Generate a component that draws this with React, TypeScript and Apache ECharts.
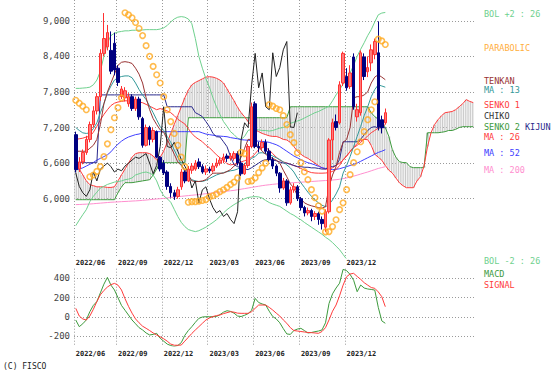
import React, { useEffect, useRef } from "react";
import * as echarts from "echarts";

// ---- weekly OHLC (Jun 2022 - Feb 2024) ----
const opens = [7080,6500,6620,6780,7000,7250,7480,7720,8450,8560,8500,8620,8200,7720,7700,7600,7720,7520,7680,7350,6900,7200,7000,7130,6700,6600,6450,6207,6100,6039,6200,6450,6300,6480,6500,6620,6540,6450,6500,6470,6550,6600,6650,6720,6680,6680,6760,6600,6420,6560,6880,7600,6880,6860,6950,6800,6660,6550,6430,6180,6300,5930,6150,6200,6000,5850,5760,5800,5700,5750,5650,5520,5780,6990,7300,7280,7950,8060,7890,8390,7380,7450,8390,8140,8290,8430,8460,7330,7280];
const closes = [6490,6620,6780,7000,7250,7480,7720,8450,8700,8800,8150,8170,7960,7850,7820,7720,7520,7680,7380,6900,7200,7000,7150,6700,6500,6433,6207,6100,6039,6150,6450,6300,6500,6550,6600,6540,6450,6500,6470,6550,6600,6650,6700,6680,6720,6760,6600,6420,6560,6880,7550,6880,6860,6950,6800,6660,6550,6430,6180,6300,5930,6150,6200,6000,5850,5760,5800,5700,5750,5650,5580,5780,6990,7280,7200,7920,8450,7870,8120,7550,7500,8460,8060,8210,8510,8650,7210,7200,7450];
const lows = [6440,6450,6580,6740,6950,7200,7420,7650,8400,8500,8100,8080,7900,7680,7640,7550,7480,7480,7330,6860,6880,6900,6950,6680,6460,6400,6150,6020,5980,6000,6150,6260,6280,6420,6470,6500,6420,6400,6430,6440,6520,6560,6600,6620,6640,6640,6560,6380,6400,6520,6850,6850,6780,6820,6760,6620,6500,6380,6100,6150,5880,5900,6100,5960,5800,5700,5720,5620,5640,5560,5480,5440,5750,6650,7150,7250,7900,7820,7850,7500,7300,7400,8000,8050,8150,8350,7150,7100,7250];
const highs = [7130,6700,6830,7060,7300,7560,7780,8520,9130,8930,8820,8800,8250,7900,7880,7780,7760,7720,7720,7380,7250,7230,7200,7150,6720,6650,6480,6260,6150,6200,6500,6480,6550,6600,6650,6680,6580,6560,6540,6600,6680,6700,6760,6760,6770,6800,6800,6640,6600,6920,7620,7640,6960,7000,7000,6850,6700,6580,6450,6350,6330,6200,6260,6230,6030,5880,5850,5830,5790,5780,5700,5820,7020,7350,7420,7980,8480,8200,8250,8450,7600,8500,8450,8400,8600,8700,8990,7400,7520];

// ---- indicators ----
const bolUpper = [7860,7860,7865,7870,7880,7920,8000,8150,8400,8620,8750,8790,8810,8820,8830,8830,8840,8840,8840,8845,8850,8850,8850,8850,8860,8880,8920,8980,9030,9060,9070,9060,9030,8950,8700,8400,8200,8020,7880,7700,7550,7420,7300,7220,7130,7080,7020,7000,7050,7150,7170,7170,7160,7150,7150,7140,7150,7170,7190,7200,7230,7270,7290,7310,7330,7360,7390,7420,7450,7470,7500,7530,7560,7650,7750,7840,7930,8030,8120,8250,8400,8520,8630,8750,8850,8980,9100,9130,9140];
const bolLower = [5545,5640,5730,5815,5950,6040,6110,6180,6210,6240,6260,6280,6290,6300,6320,6330,6350,6400,6420,6440,6450,6430,6400,6300,6150,6050,6000,5940,5820,5700,5600,5530,5480,5460,5445,5460,5490,5520,5560,5600,5645,5700,5760,5815,5860,5900,5935,5970,6000,6020,6030,6035,6030,6010,5970,5935,5910,5890,5870,5830,5790,5750,5720,5680,5645,5600,5560,5520,5480,5440,5400,5350,5310,5260,5200,5140,5060,4980,4900,4800,4700,4600,4500,4400,4300,4250,4200,4150,4100];
const parabolic = [7660,7610,7560,7500,6370,6400,6460,6540,6710,6925,7163,7365,7535,7700,9135,9100,9050,8970,8870,8750,8580,8400,8230,8090,7950,7720,7500,7300,7100,6900,6700,6540,5940,5950,5950,5960,5970,5985,6030,6050,6080,6120,6150,6190,6240,6280,6350,6780,6760,6290,6300,6350,6440,6520,6600,7585,7560,7520,7500,7400,7250,7080,6945,6775,6607,6455,6320,6152,6017,5880,5790,5440,5445,5530,5645,5815,5930,6152,6405,6607,6792,6960,7130,7332,7500,7635,8690,8660,8600];
const tenkan = [6800,6800,6800,6800,6850,6900,7000,7250,7600,7800,7950,8100,8250,8300,8310,8300,8280,8200,8100,7950,7700,7500,7350,7250,7160,7120,7000,6880,6750,6620,6560,6490,6400,6300,6290,6290,6300,6320,6380,6430,6430,6430,6430,6460,6490,6550,6600,6700,6850,7000,7000,6950,6880,6800,6750,6700,6680,6650,6600,6480,6370,6250,6180,6050,6000,5930,5900,5880,5865,5850,5840,5865,6200,6400,6540,6780,6950,7000,7200,7700,7720,7720,7750,7800,7950,8050,8090,8050,8006];
const kijun = [6607,6607,6607,6607,6607,6607,6607,7750,7750,7750,7750,7750,7750,7750,7750,7750,7750,7750,7750,7750,7750,7750,7750,7750,7750,7750,7550,7550,7550,7550,7550,7550,7550,7550,7450,7420,7383,7300,7214,7100,7045,7040,6960,6877,6710,6573,6540,6523,6500,6490,6523,6560,6600,6640,6658,6658,6650,6640,6620,6600,6600,6580,6560,6540,6540,6530,6530,6520,6520,6510,6500,6500,6540,6540,6560,6660,6960,6960,6960,6960,6960,7000,7080,7150,7200,7215,7190,7197,7197];
const ma13 = [7200,7150,7110,7100,7110,7180,7280,7450,7600,7780,7900,8000,8040,8060,8070,8070,8040,7950,7840,7750,7670,7560,7450,7330,7214,7150,7050,6950,6820,6700,6580,6460,6380,6320,6300,6290,6290,6310,6340,6370,6400,6420,6440,6455,6470,6480,6500,6540,6590,6630,6680,6710,6770,6775,6760,6740,6720,6690,6660,6620,6570,6520,6450,6350,6270,6190,6110,6040,5980,5930,5890,5865,5900,5980,6080,6200,6430,6560,6710,6880,7050,7220,7400,7550,7720,7840,7920,7900,7880];
const ma26 = [7000,7010,7020,7040,7050,7120,7220,7330,7420,7500,7570,7610,7630,7640,7650,7650,7650,7640,7630,7618,7590,7560,7530,7500,7520,7500,7480,7450,7400,7340,7300,7260,7180,7100,7040,7000,6960,6900,6860,6800,6740,6690,6650,6590,6570,6580,6600,6620,6640,6660,6700,6760,6830,6877,6860,6820,6760,6700,6650,6620,6600,6580,6560,6540,6510,6480,6460,6440,6433,6430,6430,6433,6440,6460,6490,6560,6658,6720,6790,6860,6900,6950,7000,7060,7112,7150,7190,7220,7248];
const ma52 = [6490,6500,6520,6550,6580,6610,6650,6680,6710,6740,6790,6860,6920,6970,7010,7040,7060,7080,7090,7110,7120,7130,7130,7130,7130,7130,7130,7130,7130,7130,7130,7130,7130,7130,7130,7130,7110,7090,7080,7070,7060,7055,7050,7045,7030,7020,7010,6995,6990,6985,6980,6975,6970,6965,6960,6950,6930,6910,6880,6840,6800,6760,6720,6690,6660,6630,6607,6590,6570,6545,6523,6510,6495,6490,6495,6505,6523,6540,6560,6580,6600,6630,6660,6690,6720,6750,6780,6800,6826];
const ma200 = [5900,5902,5905,5908,5910,5915,5920,5925,5930,5935,5940,5943,5946,5950,5953,5956,5960,5963,5967,5972,5977,5983,5990,5995,6000,6005,6012,6020,6027,6034,6040,6046,6052,6058,6064,6070,6077,6084,6091,6098,6105,6112,6120,6127,6134,6140,6150,6160,6170,6180,6190,6200,6210,6220,6228,6235,6242,6248,6253,6258,6262,6266,6270,6274,6278,6282,6286,6290,6294,6298,6302,6306,6310,6315,6320,6328,6338,6350,6365,6380,6397,6415,6433,6450,6470,6490,6510,6525,6540];
// leading spans, projected 25 weeks ahead
const senko1 = [6607,6500,6400,6300,6236,6220,6200,6200,6200,6190,6190,6200,6300,6400,6500,6600,6700,6760,6775,6775,6775,6760,6720,6650,6700,6800,6950,7100,7250,7400,7550,7700,7830,7920,7960,7990,8020,8050,8057,8050,8030,8000,7950,7850,7750,7650,7540,7450,7380,7300,7230,7163,7130,7100,7080,7060,7050,7050,7030,7000,6990,6950,6880,6800,6750,6708,6680,6640,6600,6560,6520,6500,6500,6520,6560,6600,6650,6720,6800,6870,6930,6980,7000,6995,6900,6750,6700,6650,6560,6480,6433,6350,6270,6220,6185,6185,6185,6300,6370,6550,6877,7112,7250,7332,7400,7450,7460,7470,7500,7550,7600,7670,7640,7620];
const senko2 = [5983,5983,5983,5983,5983,5983,5983,5983,5983,5983,5983,5983,6100,6200,6270,6270,6270,6280,6290,6300,6310,6320,6400,6500,6607,6607,6607,6607,6607,6607,6607,6607,7365,7365,7365,7365,7365,7365,7365,7365,7365,7365,7365,7365,7365,7365,7365,7365,7365,7365,7365,7365,7365,7365,7365,7365,7365,7365,7365,7365,7365,7550,7550,7550,7550,7550,7550,7550,7550,7550,7550,7550,7550,7550,7550,7550,7550,7550,7550,7550,7550,7550,7550,7550,7450,7383,7340,7298,7200,7050,6826,6700,6624,6610,6607,6540,6523,6523,6523,6523,7112,7112,7112,7112,7120,7130,7150,7150,7170,7200,7214,7214,7214,7214];
const macd = [-31,-100,-70,-30,55,120,160,250,340,410,330,280,200,120,70,20,-31,-70,-110,-134,-165,-186,-180,-169,-220,-250,-280,-295,-305,-295,-265,-190,-140,-100,-55,-14,0,3,3,3,5,25,50,65,58,40,10,5,18,35,70,193,150,135,124,60,5,-20,-60,-120,-175,-180,-140,-125,-117,-140,-165,-160,-152,-145,-134,-60,140,240,300,350,493,480,440,380,262,331,300,290,285,279,100,-40,-65];
const signal = [90,10,-20,-31,10,80,160,230,275,310,335,348,330,280,190,110,40,-20,-60,-95,-117,-140,-165,-186,-205,-225,-250,-280,-292,-292,-290,-250,-210,-170,-134,-100,-65,-31,-10,5,15,21,35,45,55,50,40,38,38,38,55,90,124,124,124,100,72,40,10,-30,-65,-110,-140,-145,-150,-155,-160,-162,-165,-169,-150,-110,-30,60,124,220,330,417,445,452,420,390,355,330,305,297,260,210,107];

const SHIFT = 25;
const priceTicks = [6000, 6600, 7200, 7800, 8400, 9000];
const macdTicks = [-200, 0, 200, 400];

// weekly categories (Fridays), including the 25 projected weeks
const weeks: string[] = [];
for (let k = 0; k < closes.length + SHIFT; k++) {
  const d = new Date(Date.UTC(2022, 5, 10) + k * 7 * 86400000);
  weeks.push(
    `${d.getUTCFullYear()}/${String(d.getUTCMonth() + 1).padStart(2, "0")}/${String(d.getUTCDate()).padStart(2, "0")}`
  );
}
const isQuarter = (i: number) => {
  if (i >= closes.length) return false;
  if (i === 0) return true;
  const m = Number(weeks[i].slice(5, 7));
  const day = Number(weeks[i].slice(8, 10));
  return [3, 6, 9, 12].includes(m) && day <= 7;
};

const chiko = closes.slice(SHIFT);

const FONT = '"DejaVu Sans Mono", monospace';
const GRID_LINE = { color: "#9a9a9a", width: 1, type: [1, 2] as any };

const legendItems: [string, string, number, number][] = [
  ["BOL +2 : 26", "#6fd18e", 484, 14],
  ["PARABOLIC", "#ffae3c", 484, 48],
  ["TENKAN", "#993333", 484, 81],
  ["MA : 13", "#339999", 484, 89.5],
  ["SENKO 1", "#ff3b3b", 484, 105],
  ["CHIKO", "#333333", 484, 116],
  ["SENKO 2", "#3d9a3d", 484, 127],
  ["KIJUN", "#2a2a8c", 525, 127],
  ["MA : 26", "#ff3b3b", 484, 136.5],
  ["MA : 52", "#4040ff", 484, 153],
  ["MA : 200", "#ff8fcf", 484, 170],
  ["BOL -2 : 26", "#6fd18e", 484, 261],
  ["MACD", "#3d9a3d", 484, 274],
  ["SIGNAL", "#ff3b3b", 484, 284.5],
];

function xAxisFor(gridIndex: number, margin: number) {
  return {
    type: "category",
    gridIndex,
    data: weeks,
    boundaryGap: true,
    axisLine: { show: false },
    axisTick: { show: false },
    axisLabel: {
      interval: (i: number) => isQuarter(i),
      formatter: (v: string) => v.slice(0, 7),
      fontSize: 7,
      fontFamily: FONT,
      fontWeight: "bold",
      color: "#222",
      align: "left",
      margin,
    },
    splitLine: { show: true, interval: (i: number) => isQuarter(i), lineStyle: GRID_LINE },
  };
}

const line = (data: (number | null)[], color: string, extra: any = {}) => ({
  type: "line",
  data,
  symbol: "none",
  silent: true,
  lineStyle: { color, width: 1 },
  itemStyle: { color },
  z: 3,
  ...extra,
});

export default function App() {
  const ref = useRef<HTMLDivElement>(null);
  useEffect(() => {
    const chart = echarts.init(ref.current!, null, { renderer: "svg" });
    const option: any = {
      animation: false,
      backgroundColor: "#ffffff",
      grid: [
        { left: 74, right: 84, top: 0, height: 258 },
        { left: 74, right: 84, top: 268.7, height: 77.3 },
      ],
      xAxis: [xAxisFor(0, 1), xAxisFor(1, 4)],
      yAxis: [
        {
          type: "value",
          gridIndex: 0,
          min: 5000,
          max: 9350,
          axisLine: { show: false },
          axisTick: { show: false, customValues: priceTicks },
          axisLabel: {
            customValues: priceTicks,
            formatter: (v: number) => v.toLocaleString("en-US"),
            fontSize: 9,
            fontFamily: FONT,
            color: "#444",
            margin: 4,
          },
          splitLine: { show: true, lineStyle: GRID_LINE },
        },
        {
          type: "value",
          gridIndex: 1,
          min: -300,
          max: 500,
          axisLine: { show: false },
          axisTick: { show: false, customValues: macdTicks },
          axisLabel: {
            customValues: macdTicks,
            fontSize: 9,
            fontFamily: FONT,
            color: "#444",
            margin: 4,
          },
          splitLine: { show: true, lineStyle: GRID_LINE },
        },
      ],
      series: [
        {
          type: "custom",
          xAxisIndex: 0,
          yAxisIndex: 0,
          silent: true,
          z: 1,
          data: senko1.map((v, i) => [i, v, senko2[i]]),
          renderItem: (_p: any, api: any) => {
            const i = api.value(0);
            const a = api.coord([i, api.value(1)]);
            const b = api.coord([i, api.value(2)]);
            const w = api.size([1, 0])[0];
            const style = { stroke: "#c9c9c9", lineWidth: 1 };
            return {
              type: "group",
              children: [
                { type: "line", shape: { x1: a[0] - w / 4, y1: a[1], x2: a[0] - w / 4, y2: b[1] }, style },
                { type: "line", shape: { x1: a[0] + w / 4, y1: a[1], x2: a[0] + w / 4, y2: b[1] }, style },
              ],
            };
          },
        },
        line(senko2, "#3d9a3d"),
        line(senko1, "#ff3b3b"),
        line(ma200, "#ff8fcf"),
        line(bolUpper, "#6fd18e"),
        line(bolLower, "#6fd18e"),
        line(ma52, "#4040ff"),
        line(ma26, "#ff3b3b"),
        line(kijun, "#2a2a8c"),
        line(ma13, "#339999"),
        line(tenkan, "#993333"),
        line(chiko, "#222222"),
        {
          type: "candlestick",
          xAxisIndex: 0,
          yAxisIndex: 0,
          silent: true,
          z: 4,
          barWidth: 3,
          data: opens.map((o, i) => [o, closes[i], lows[i], highs[i]]),
          itemStyle: {
            color: "#ff7a7a",
            color0: "#000080",
            borderColor: "#ff3030",
            borderColor0: "#000080",
            borderWidth: 1,
          },
        },
        {
          type: "scatter",
          xAxisIndex: 0,
          yAxisIndex: 0,
          silent: true,
          z: 5,
          symbol: "circle",
          symbolSize: 5.5,
          data: parabolic,
          itemStyle: { color: "rgba(255,255,255,0)", borderColor: "#ffaa22", borderWidth: 1.6 },
        },
        line(macd, "#3d9a3d", { xAxisIndex: 1, yAxisIndex: 1 }),
        line(signal, "#ff3b3b", { xAxisIndex: 1, yAxisIndex: 1 }),
      ],
      graphic: [
        // cover the closing band boundary line that the category axis adds at the right edge
        { type: "rect", z: 100, silent: true, shape: { x: 474, y: 0, width: 3, height: 259 }, style: { fill: "#fff" } },
        { type: "rect", z: 100, silent: true, shape: { x: 474, y: 268, width: 3, height: 79 }, style: { fill: "#fff" } },
        ...legendItems.map(([text, fill, x, y]) => ({
          type: "text",
          x,
          y,
          z: 101,
          silent: true,
          style: { text, fill, font: `8.5px ${FONT}`, verticalAlign: "middle" },
        })),
        {
          type: "text",
          x: 3,
          y: 366,
          z: 101,
          silent: true,
          style: { text: "(C) FISCO", fill: "#222", font: `8px ${FONT}`, verticalAlign: "middle" },
        },
      ],
    };
    chart.setOption(option);
    return () => chart.dispose();
  }, []);
  return (
    <div
      ref={ref}
      style={{ position: "fixed", left: 0, top: 0, width: 559, height: 380, background: "#fff" }}
    />
  );
}
